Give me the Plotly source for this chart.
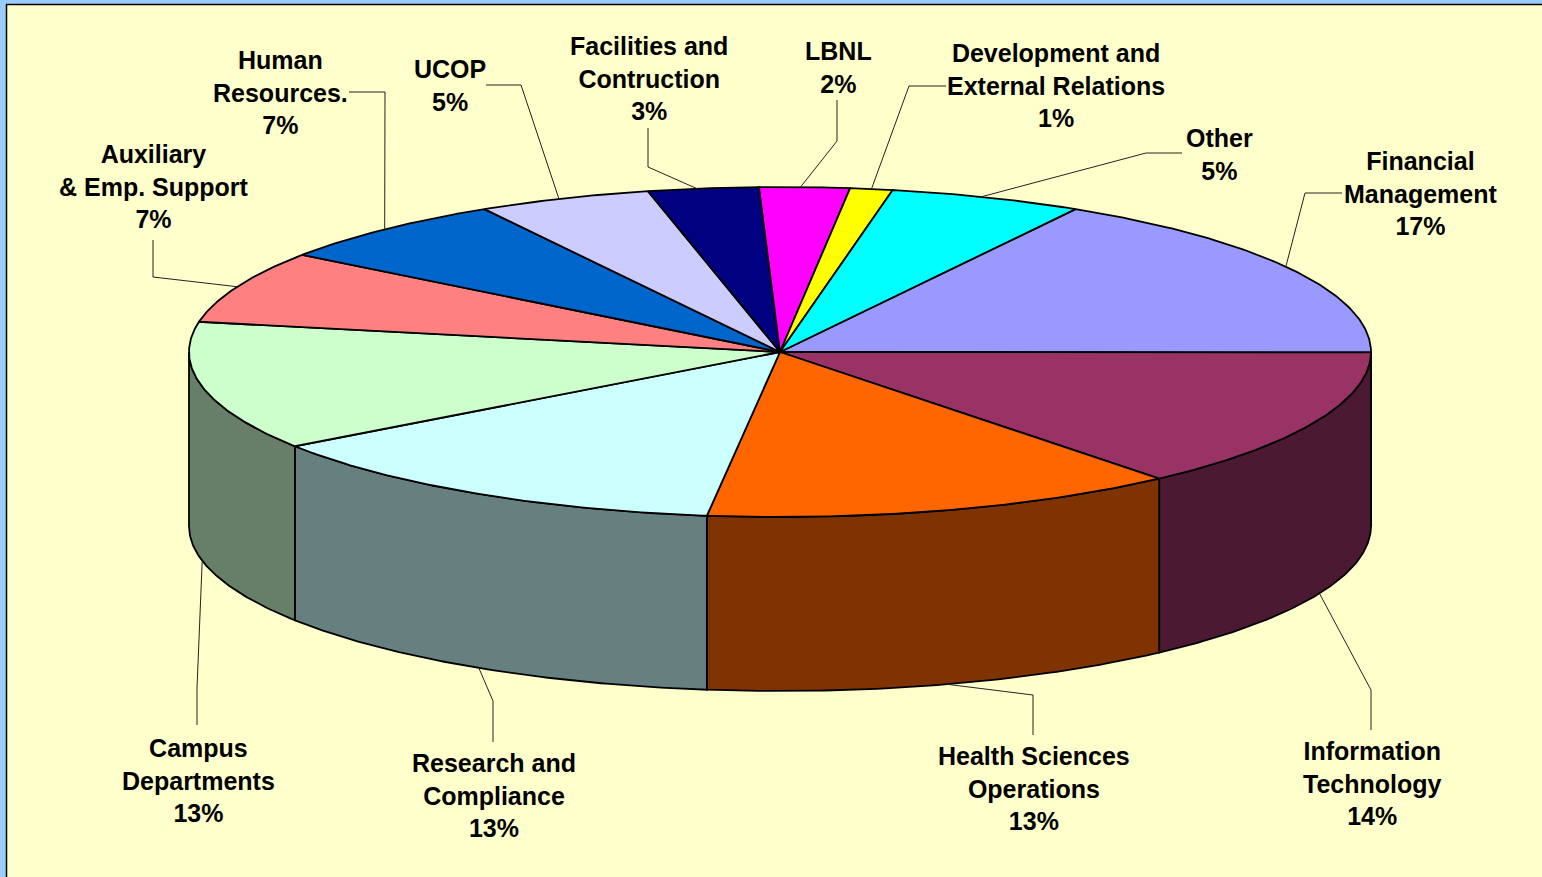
import math
import plotly.graph_objects as go

# --- data, clockwise from the Financial Management slice ---
categories = ["Financial<br>Management", "Information<br>Technology", "Health Sciences<br>Operations",
              "Research and<br>Compliance", "Campus<br>Departments", "Auxiliary<br>& Emp. Support",
              "Human<br>Resources.", "UCOP", "Facilities and<br>Contruction", "LBNL",
              "Development and<br>External Relations", "Other"]
shares = [16.7, 13.88, 13.06, 13.35, 12.61, 7.08, 6.65, 4.75, 3.02, 2.46, 1.16, 5.28]
colors = ["#9999FF", "#993366", "#FF6600", "#CCFFFF", "#CCFFCC", "#FF8080",
          "#0066CC", "#CCCCFF", "#000080", "#FF00FF", "#FFFF00", "#00FFFF"]

# --- layout constants ---
W, H = 1542, 877
CX, CY, RX, RY, DEPTH = 780, 352, 591, 165, 174
START_DEG = 60
label_pos = [(1420, 193), (1372, 783), (1034, 788), (494, 795), (198, 780), (154, 186.5),
             (280, 92), (450, 85), (649, 78), (838, 67), (1056, 85), (1219, 154)]
leader_knees = [[(1305, 193), (1342, 193)], [(1371, 690), (1371, 730)], [(1033, 695), (1033, 735)],
                [(493, 701), (493, 742)], [(197, 688), (197, 725)], [(153, 277), (153, 240)],
                [(385, 92), (349, 92)], [(521, 85), (486, 85)], [(648, 167), (648, 128)],
                [(837, 141), (837, 100)], [(909, 86), (946, 86)], [(1146, 153), (1182, 153)]]
leader_nudge_deg = [1.2, 1.0, 0, 0.5, 0, 0, 0, 0.5, 0.6, 0.4, 0, 0.6]


def pt(deg, drop=0.0):
    a = math.radians(deg)
    return CX + RX * math.cos(a), CY - RY * math.sin(a) + drop


def arc(a0, a1, drop=0.0):
    n = max(2, int(abs(a1 - a0) * 2) + 1)
    return [pt(a0 + (a1 - a0) * i / (n - 1), drop) for i in range(n)]


def darken(h):
    return "#%02X%02X%02X" % tuple(int(h[i:i + 2], 16) // 2 for i in (1, 3, 5))


total = sum(shares)
spans, cur = [], START_DEG
for s in shares:
    nxt = cur - s / total * 360
    spans.append((cur, nxt))
    cur = nxt

fig = go.Figure()


def poly(points, fill, name):
    fig.add_trace(go.Scatter(x=[p[0] for p in points], y=[p[1] for p in points], mode="lines",
                             fill="toself", fillcolor=fill, line=dict(color="black", width=1.8),
                             showlegend=False, name=name, hoverinfo="name"))


# side walls: only the part of each slice on the front half of the rim
for (a0, a1), c, name in zip(spans, colors, categories):
    hi, lo = min(a0, 0), max(a1, -180)
    if hi > lo:
        poly(arc(hi, lo) + arc(lo, hi, DEPTH) + [pt(hi)], darken(c), name.replace("<br>", " "))

# top faces
for (a0, a1), c, name in zip(spans, colors, categories):
    poly([(CX, CY)] + arc(a0, a1) + [(CX, CY)], c, name.replace("<br>", " "))

# leader lines
for (a0, a1), knees, nudge in zip(spans, leader_knees, leader_nudge_deg):
    mid = (a0 + a1) / 2 + nudge
    norm = (mid + 180) % 360 - 180
    start = pt(mid, DEPTH if norm < 0 else 0)
    pts = [start] + knees
    fig.add_trace(go.Scatter(x=[p[0] for p in pts], y=[p[1] for p in pts], mode="lines",
                             line=dict(color="#222222", width=1), showlegend=False, hoverinfo="skip"))

for name, s, (x, y) in zip(categories, shares, label_pos):
    fig.add_annotation(x=x, y=y, xref="x", yref="y", text=f"{name}<br>{round(s)}%", showarrow=False,
                       xanchor="center", yanchor="middle", align="center",
                       font=dict(family="Liberation Sans", size=25, color="black", weight=700))

fig.update_layout(
    width=W, height=H, autosize=False, margin=dict(l=0, r=0, t=0, b=0),
    paper_bgcolor="#99CCFF", plot_bgcolor="rgba(0,0,0,0)", showlegend=False,
    xaxis=dict(range=[0, W], visible=False, fixedrange=True),
    yaxis=dict(range=[H, 0], visible=False, fixedrange=True),
    shapes=[dict(type="rect", layer="below", xref="x", yref="y", x0=6.5, y0=4.5, x1=W + 10, y1=H + 10,
                 fillcolor="#FFFFCC", line=dict(color="black", width=1.5))],
)
fig.write_html("out.html", config={"displayModeBar": False},
               post_script="document.body.style.margin='0';document.body.style.overflow='hidden';")
